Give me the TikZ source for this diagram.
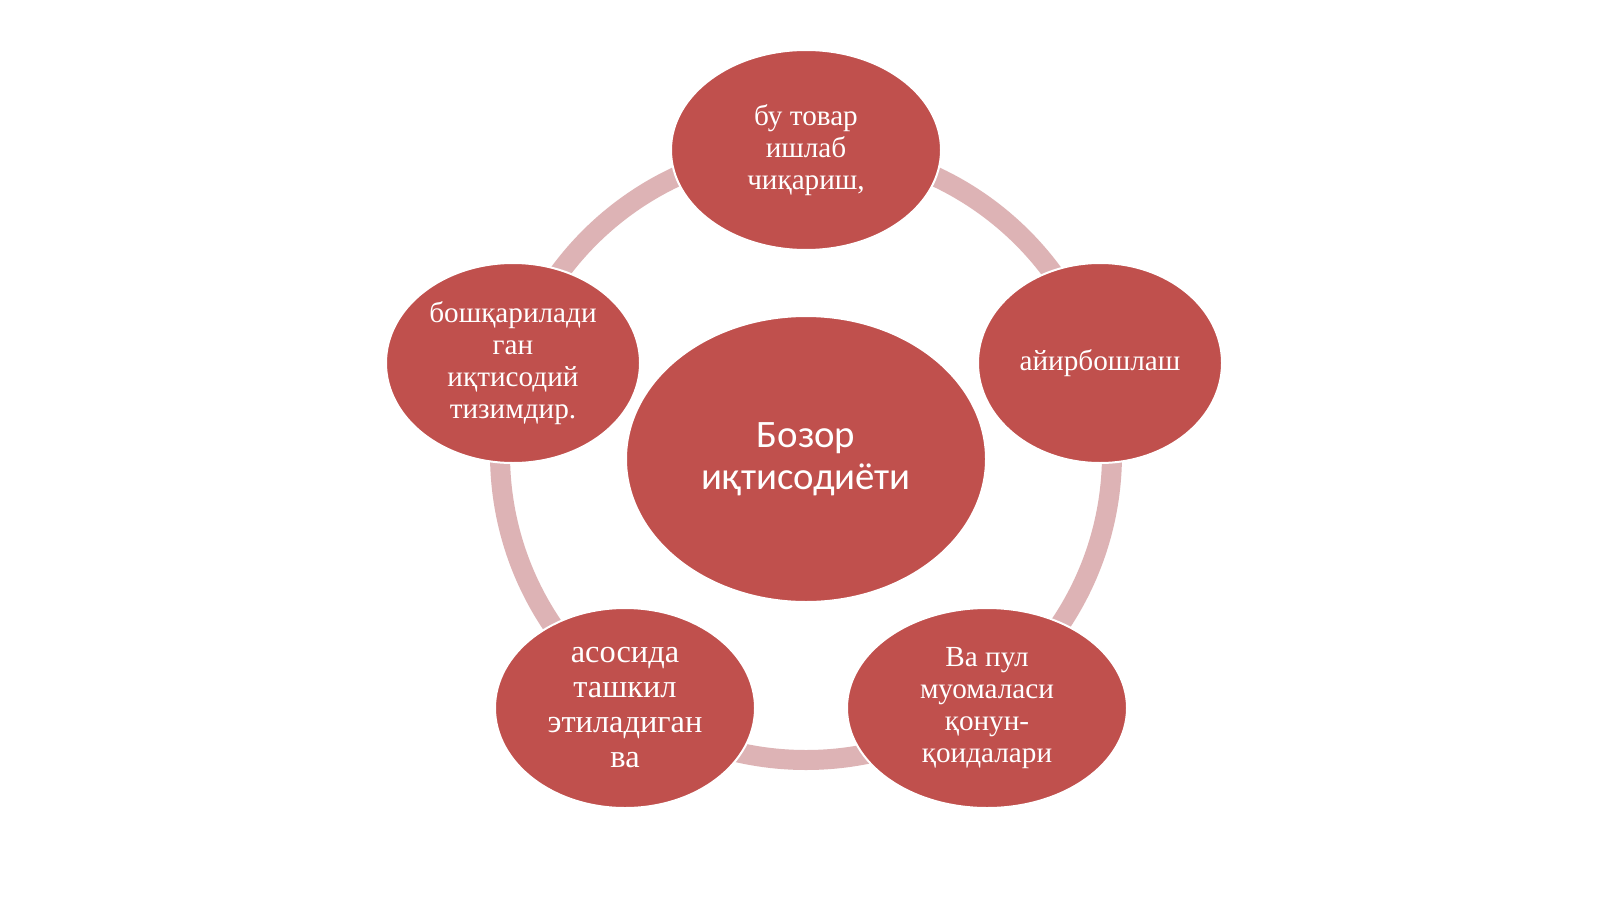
\documentclass[tikz,border=0pt]{standalone}
\usepackage{fontspec}
\setmainfont{Liberation Serif}
\newfontfamily\hubfont{Carlito}
\usetikzlibrary{shapes.geometric}
\definecolor{bubblered}{HTML}{C0504D}
\definecolor{ringpink}{HTML}{DDB3B5}
\tikzset{
	bubble/.style={ellipse, fill=bubblered, draw=white, line width=1pt, inner sep=0pt,
		text=white, align=center, font=\fontsize{14.6}{16}\selectfont},
	hub/.style={bubble, font=\hubfont\fontsize{19.4}{21}\selectfont}
}

\begin{document}
\begin{tikzpicture}[x=0.5pt, y=-0.5pt]
	%\draw[help lines] (0,0) grid (1600,899);
	\useasboundingbox[fill=white] (0,0) rectangle (1600,899);
	\coordinate (ringc) at (806,454);
	\draw[ringpink, line width=10pt] (ringc) circle[radius=153pt];
	\node[hub, minimum width=180pt, minimum height=143pt] (market) at (806,459) {Бозор\\иқтисодиёти};
	\node[bubble, minimum width=135pt, minimum height=100pt] (produce) at (806,150) {бу товар\\ишлаб\\чиқариш,};
	\node[bubble, minimum width=122pt, minimum height=100pt] (exchange) at (1100,363) {айирбошлаш};
	\node[bubble, minimum width=140pt, minimum height=100pt] (money) at (987,708) {Ва пул\\муомаласи\\қонун-\\қоидалари};
	\node[bubble, minimum width=130pt, minimum height=100pt, font=\fontsize{16.2}{17.5}\selectfont] (basis) at (625,708) {асосида\\ташкил\\этиладиган\\ва};
	\node[bubble, minimum width=127pt, minimum height=100pt] (system) at (513,363) {бошқарилади\\ган\\иқтисодий\\тизимдир.};
\end{tikzpicture}
\end{document}
